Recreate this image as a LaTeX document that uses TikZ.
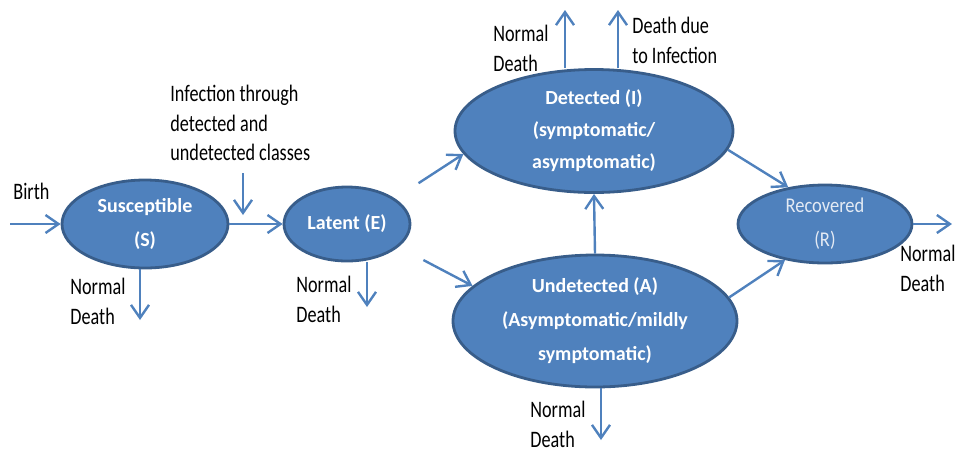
\documentclass[tikz,border=0pt]{standalone}
\usepackage{fontspec}
\setmainfont{Carlito}
\newfontfamily\lblfont[FakeStretch=0.77]{Carlito}
\newfontfamily\recfont[FakeStretch=0.88]{Carlito}
\usetikzlibrary{shapes.geometric,arrows.meta}
\definecolor{boxblue}{HTML}{4F81BD}
\definecolor{boxline}{HTML}{385D8A}
\definecolor{rectext}{HTML}{E3EAF4}
\tikzset{
  comp/.style={ellipse,draw=boxline,fill=boxblue,line width=1.4pt,inner sep=0pt,
    text=white,align=center,font=\bfseries\fontsize{10}{17}\selectfont},
  flow/.style={draw=boxblue,line width=1.2pt,-{Straight Barb[length=6.5pt,width=9pt]}},
  lbl/.style={anchor=north west,inner sep=0pt,align=left,
    font=\lblfont\fontsize{11.8}{14.8}\selectfont}
}
\begin{document}
\begin{tikzpicture}[x=0.5pt,y=-0.5pt]
  \useasboundingbox (0,0) rectangle (955,452);
  % compartments
  \node[comp,minimum width=83pt,minimum height=44pt] (S) at (145,224) {Susceptible\\(S)};
  \node[comp,minimum width=63pt,minimum height=37pt] (E) at (347,224) {Latent (E)};
  \node[comp,minimum width=139pt,minimum height=61.5pt,font=\bfseries\fontsize{10}{16}\selectfont]
    (I) at (594,131) {Detected (I)\\(symptomatic/\\asymptomatic)};
  \node[comp,minimum width=142pt,minimum height=66pt] (A) at (595,321)
    {Undetected (A)\\(Asymptomatic/mildly\\symptomatic)};
  \node[comp,minimum width=87pt,minimum height=39pt,text=rectext,
    font=\recfont\fontsize{10.5}{17}\selectfont] (R) at (825,224) {Recovered\\(R)};
  % free ends
  \coordinate (birth) at (10,224);
  \coordinate (inftop) at (243,173);
  \coordinate (infend) at (243,215);
  \coordinate (Sd) at (140,320);
  \coordinate (Ed) at (367,307);
  \coordinate (Iup1) at (565,10);
  \coordinate (Iup2) at (618,10);
  \coordinate (Ad) at (601,440);
  \coordinate (Rout) at (952,224);
  % flows
  \draw[flow] (birth) -- (S.west);
  \draw[flow] (S.east) -- (E.west);
  \draw[flow] (inftop) -- (infend);
  \draw[flow] (Sd |- S.south) -- (Sd);
  \draw[flow] (Ed |- E.south) -- (Ed);
  \draw[flow,shorten <=14pt] (E.28) -- (I.190);
  \draw[flow,shorten <=14pt] (E.-24) -- (A.164);
  \draw[flow] (A.north) -- (I.south);
  \draw[flow] (Iup1 |- I.north) -- (Iup1);
  \draw[flow] (Iup2 |- I.north) -- (Iup2);
  \draw[flow] (Ad |- A.south) -- (Ad);
  \draw[flow] (I.-8) -- (R.135);
  \draw[flow] (A.10) -- (R.222);
  \draw[flow] (R.east) -- (Rout);
  % labels
  \node[lbl] (birthlbl) at (13,183) {Birth};
  \node[lbl] (inflbl) at (170,85) {Infection through\\detected and\\undetected classes};
  \node[lbl] (Sdlbl) at (70,278) {Normal\\Death};
  \node[lbl] (Edlbl) at (296,276) {Normal\\Death};
  \node[lbl] (Idlbl) at (493,25) {Normal\\Death};
  \node[lbl] (Iinflbl) at (632,17) {Death due\\to Infection};
  \node[lbl] (Adlbl) at (530,401) {Normal\\Death};
  \node[lbl] (Rdlbl) at (900,245) {Normal\\Death};
\end{tikzpicture}
\end{document}
